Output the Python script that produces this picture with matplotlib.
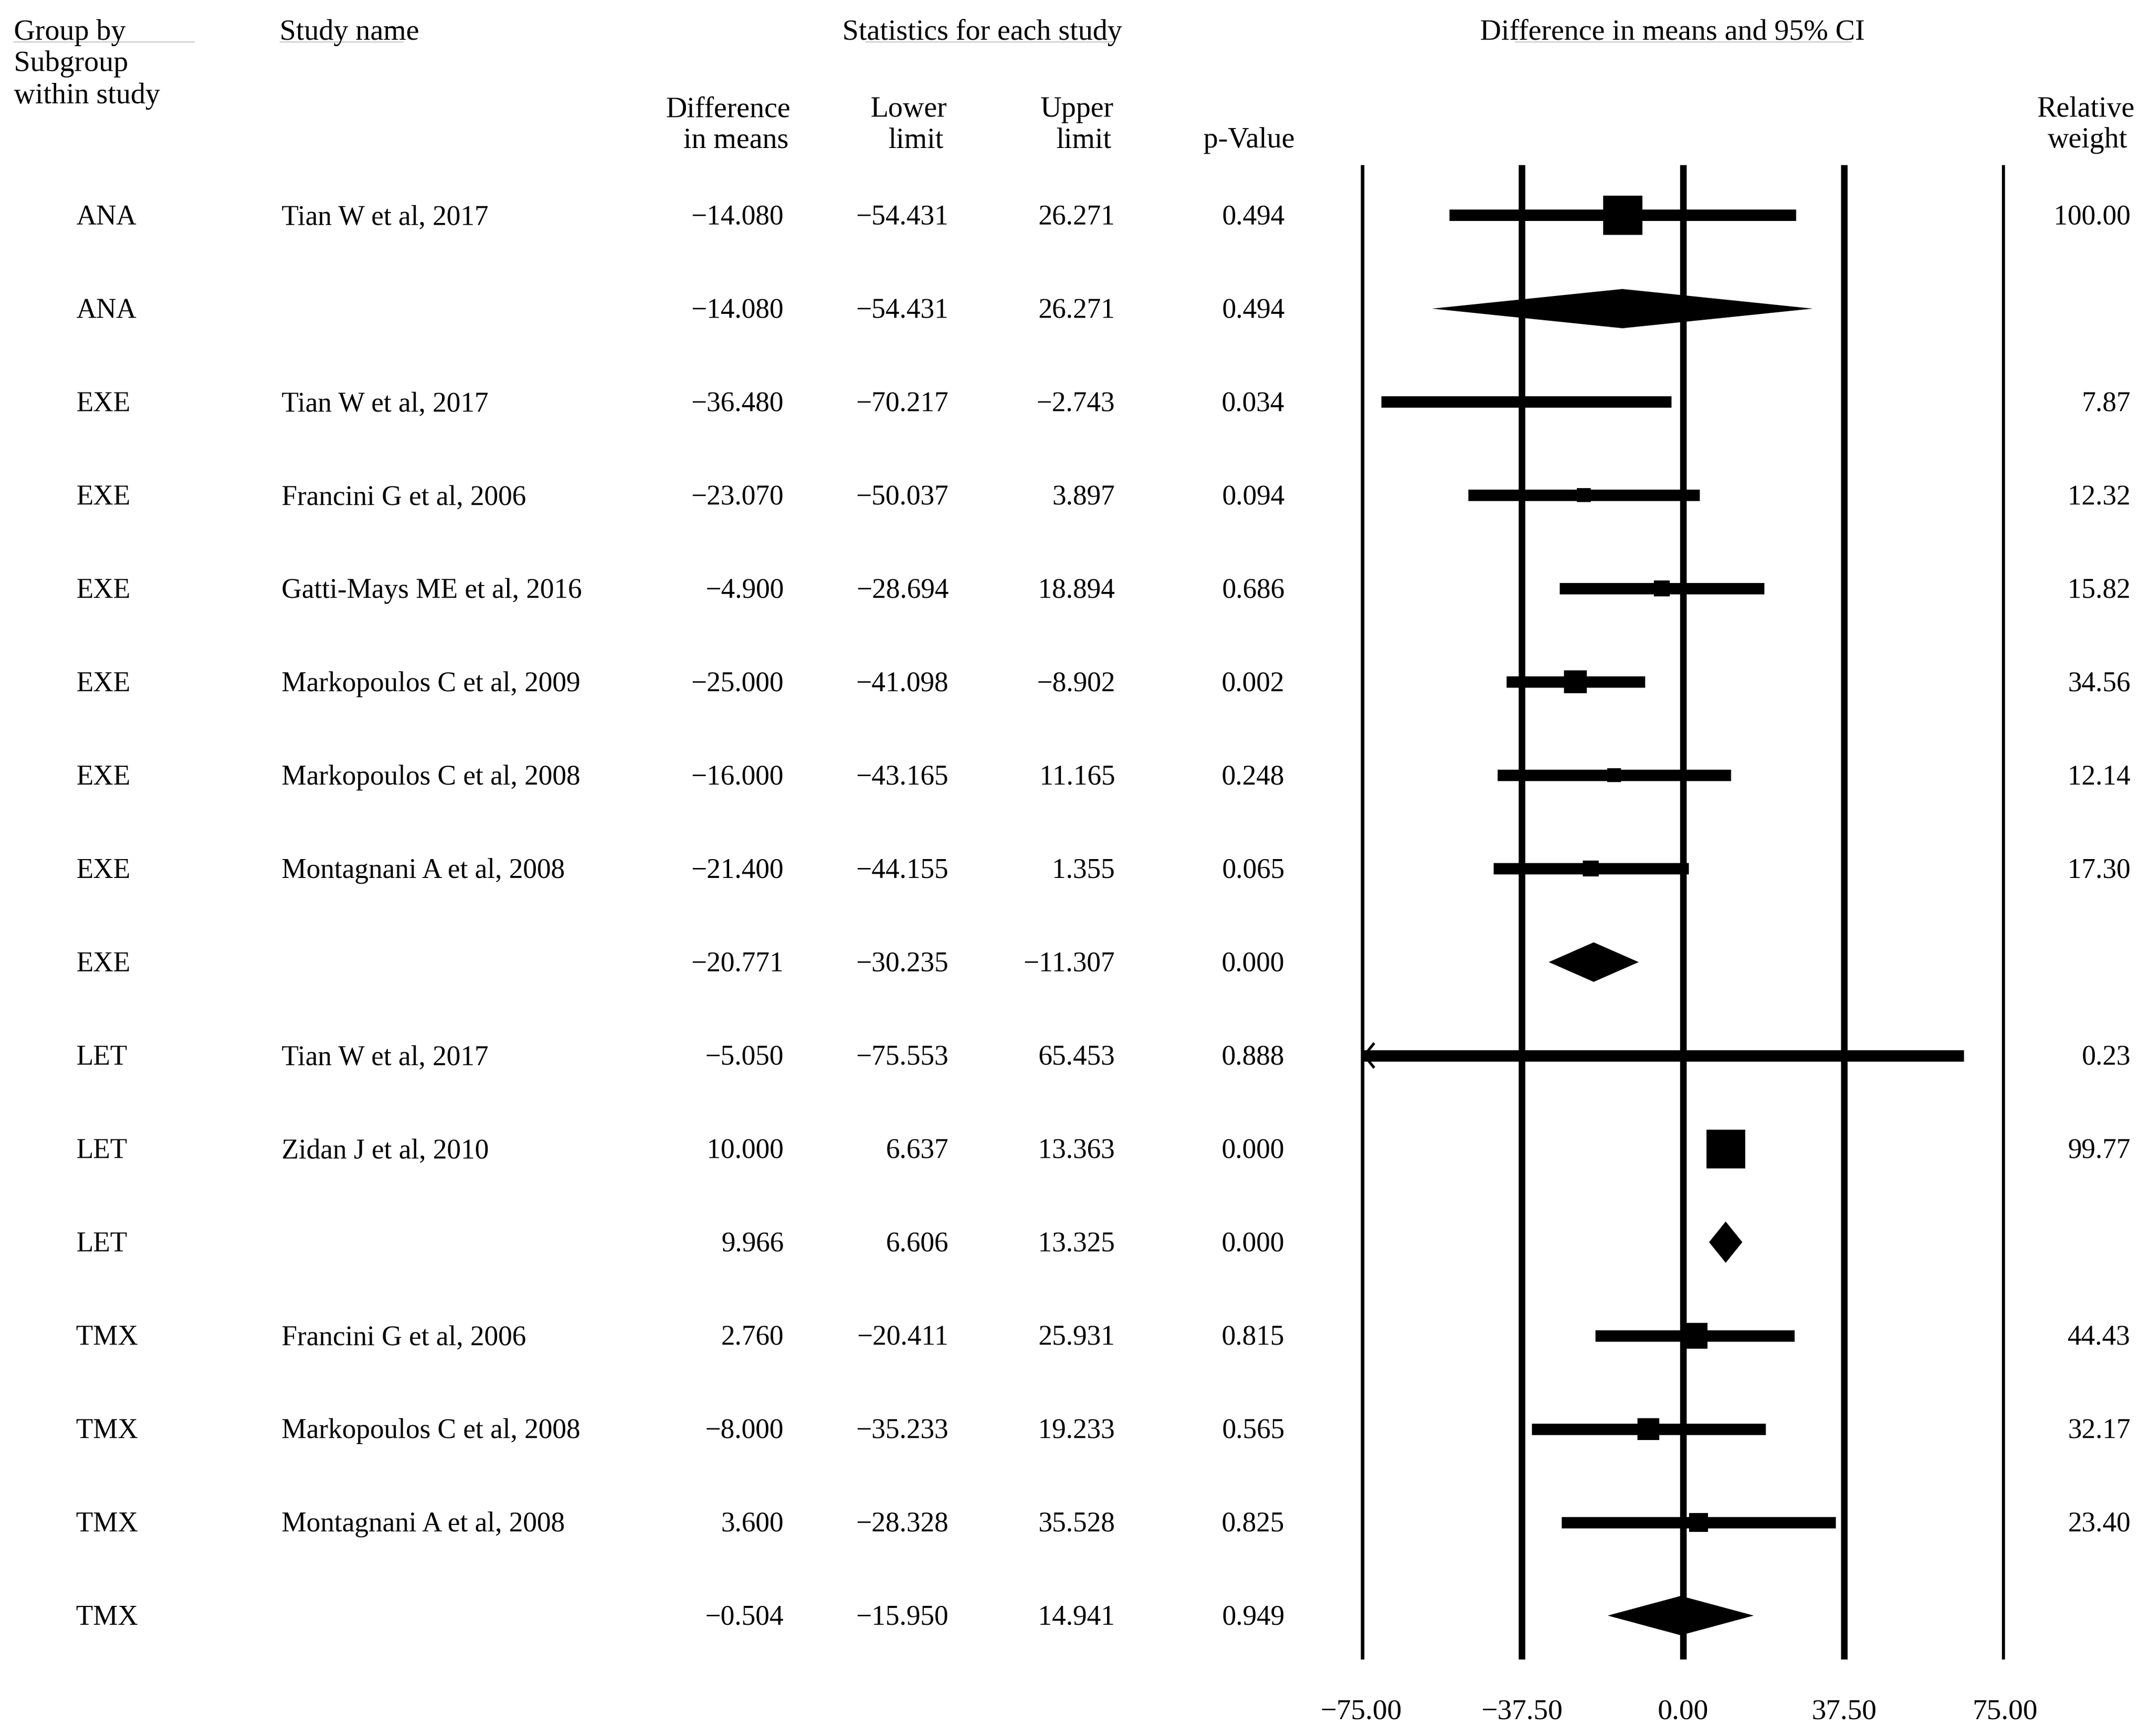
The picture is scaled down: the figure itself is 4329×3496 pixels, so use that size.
import numpy as np
import matplotlib
matplotlib.use("Agg")
import matplotlib.pyplot as plt
from matplotlib import transforms
from matplotlib.lines import Line2D
from matplotlib.patches import Polygon

# ---------------- data ----------------
groups = ["ANA", "ANA", "EXE", "EXE", "EXE", "EXE", "EXE", "EXE", "EXE",
          "LET", "LET", "LET", "TMX", "TMX", "TMX", "TMX"]
studies = ["Tian W et al, 2017", "",
           "Tian W et al, 2017", "Francini G et al, 2006", "Gatti-Mays ME et al, 2016",
           "Markopoulos C et al, 2009", "Markopoulos C et al, 2008", "Montagnani A et al, 2008", "",
           "Tian W et al, 2017", "Zidan J et al, 2010", "",
           "Francini G et al, 2006", "Markopoulos C et al, 2008", "Montagnani A et al, 2008", ""]
diff = [-14.080, -14.080, -36.480, -23.070, -4.900, -25.000, -16.000, -21.400, -20.771,
        -5.050, 10.000, 9.966, 2.760, -8.000, 3.600, -0.504]
lower = [-54.431, -54.431, -70.217, -50.037, -28.694, -41.098, -43.165, -44.155, -30.235,
         -75.553, 6.637, 6.606, -20.411, -35.233, -28.328, -15.950]
upper = [26.271, 26.271, -2.743, 3.897, 18.894, -8.902, 11.165, 1.355, -11.307,
         65.453, 13.363, 13.325, 25.931, 19.233, 35.528, 14.941]
pvals = [0.494, 0.494, 0.034, 0.094, 0.686, 0.002, 0.248, 0.065, 0.000,
         0.888, 0.000, 0.000, 0.815, 0.565, 0.825, 0.949]
weights = [100.00, None, 7.87, 12.32, 15.82, 34.56, 12.14, 17.30, None,
           0.23, 99.77, None, 44.43, 32.17, 23.40, None]
xticks = [-75.0, -37.5, 0.0, 37.5, 75.0]

# ---------------- figure ----------------
W, H, DPI = 4329, 3496, 300
plt.rcParams['font.family'] = ['Liberation Serif', 'DejaVu Serif']
FS = 13.5      # body text
FSH = 14.2     # header text
FST = 14.0     # tick labels
fig = plt.figure(figsize=(W / DPI, H / DPI), dpi=DPI)
fig.patch.set_facecolor('white')

def fx(px):
    return px / W

def fy(py):
    return 1 - py / H

ax_left, ax_right = 2740, 4037
ax_top, ax_bot = 332, 3342
row0, row_step = 433.5, 188.0
ax = fig.add_axes([fx(ax_left), fy(ax_bot), (ax_right - ax_left) / W, (ax_bot - ax_top) / H])
ax.set_xlim(xticks[0], xticks[-1])
ax.set_ylim((ax_bot - row0) / row_step, (ax_top - row0) / row_step)
for s in ax.spines.values():
    s.set_visible(False)
ax.set_yticks([])
ax.set_xticks(xticks, [f"{t:.2f}".replace("-", "\u2212") for t in xticks])
ax.tick_params(axis='x', length=0, pad=19, labelsize=FST)
ax.patch.set_alpha(0)

for t in xticks:
    ax.axvline(t, color='black', lw=3.2, solid_capstyle='butt', zorder=1)

n = len(diff)
rows = np.arange(n)
xmin, xmax = xticks[0], xticks[-1]
px_per_unit = (ax_right - ax_left) / (xmax - xmin)
dia_b = 36.0     # diamond half-height (px) before outline
dia_d = 3.5      # outline offset (px)
for i in rows:
    if studies[i] == "":
        a = (upper[i] - lower[i]) / 2 * px_per_unit
        L = np.hypot(a, dia_b)
        ext_x = dia_d * L / dia_b / px_per_unit
        hh = (dia_b + dia_d * L / a) / row_step
        poly = Polygon([(lower[i] - ext_x, i), (diff[i], i - hh),
                        (upper[i] + ext_x, i), (diff[i], i + hh)],
                       closed=True, facecolor='black', edgecolor='none', zorder=3)
        ax.add_patch(poly)
    else:
        lo = max(lower[i], xmin)
        hi = min(upper[i], xmax)
        ax.plot([lo, hi], [i, i], color='black', lw=5.5, solid_capstyle='butt', zorder=2)
        if lower[i] < xmin:
            dx = 27 / px_per_unit
            dy = 25 / row_step
            ax.plot([lo + dx, lo + 7 / px_per_unit, lo + dx], [i - dy, i, i + dy],
                    color='black', lw=1.3, solid_capstyle='butt', zorder=2)
        side_pt = 79 * np.sqrt(weights[i] / 100.0) * 72 / DPI
        ax.scatter([diff[i]], [i], marker='s', s=side_pt ** 2, color='black',
                   linewidths=0, zorder=3)

# ---------------- table text ----------------
tr = transforms.blended_transform_factory(fig.transFigure, ax.transData)
base_off = 0.098

def fmt(v, d=3):
    return f"{v:.{d}f}".replace("-", "\u2212")

for i in rows:
    y = i + base_off
    ax.text(fx(153), y, groups[i], transform=tr, ha='left', va='baseline', fontsize=FS)
    if studies[i]:
        ax.text(fx(567), y, studies[i], transform=tr, ha='left', va='baseline', fontsize=FS)
    ax.text(fx(1578), y, fmt(diff[i]), transform=tr, ha='right', va='baseline', fontsize=FS)
    ax.text(fx(1910), y, fmt(lower[i]), transform=tr, ha='right', va='baseline', fontsize=FS)
    ax.text(fx(2245), y, fmt(upper[i]), transform=tr, ha='right', va='baseline', fontsize=FS)
    ax.text(fx(2587), y, fmt(pvals[i]), transform=tr, ha='right', va='baseline', fontsize=FS)
    if weights[i] is not None:
        ax.text(fx(4290), y, f"{weights[i]:.2f}", transform=tr, ha='right', va='baseline', fontsize=FS)

# ---------------- headers ----------------
headers = [
    ("Group by", 28, 80, 'left'),
    ("Subgroup", 28, 143, 'left'),
    ("within study", 28, 208, 'left'),
    ("Study name", 563, 80, 'left'),
    ("Statistics for each study", 1978, 80, 'center'),
    ("Difference in means and 95% CI", 3367, 80, 'center'),
    ("Difference", 1592, 235, 'right'),
    ("in means", 1588, 297, 'right'),
    ("Lower", 1907, 235, 'right'),
    ("limit", 1900, 297, 'right'),
    ("Upper", 2243, 235, 'right'),
    ("limit", 2238, 297, 'right'),
    ("p-Value", 2607, 297, 'right'),
    ("Relative", 4298, 235, 'right'),
    ("weight", 4284, 297, 'right'),
]
for txt, x, y, ha in headers:
    fig.text(fx(x), fy(y), txt, ha=ha, va='baseline', fontsize=FSH)

underlines = [(28, 390), (564, 811), (1743, 2241), (3051, 3727)]
for x0, x1 in underlines:
    fig.add_artist(Line2D([fx(x0), fx(x1)], [fy(84), fy(84)], transform=fig.transFigure,
                          color='#cccccc', lw=0.6))

fig.savefig("out.png", dpi=DPI, facecolor='white')
